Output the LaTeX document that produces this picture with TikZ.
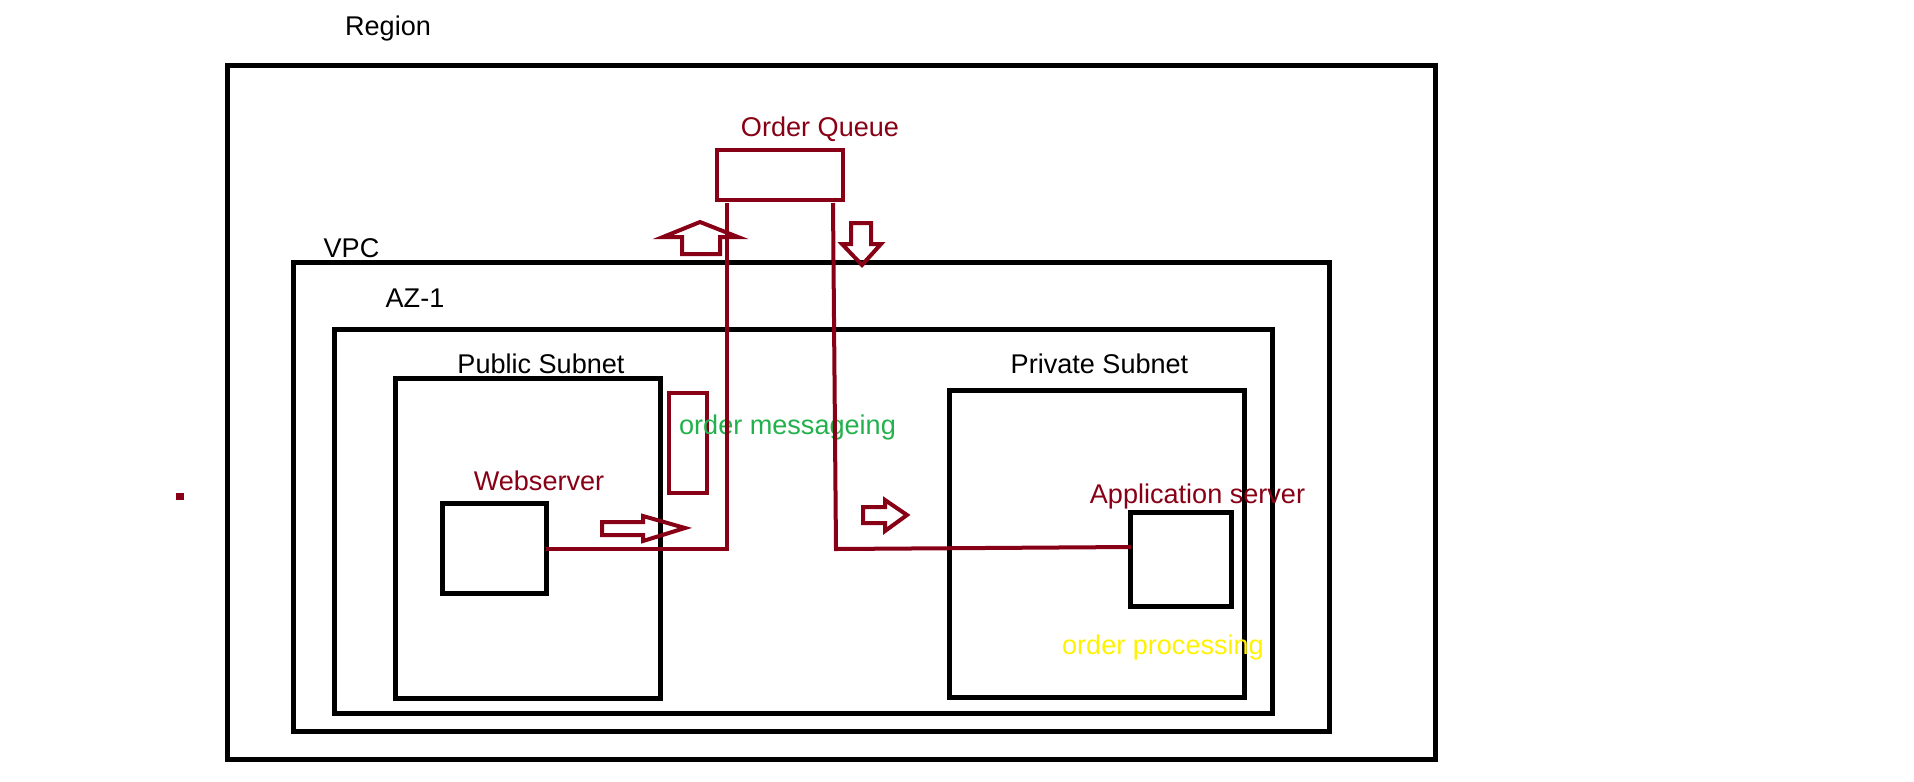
\documentclass[tikz,border=0pt]{standalone}
\usepackage{fontspec}
\setmainfont{Liberation Sans}
\definecolor{dred}{RGB}{136,0,21}
\definecolor{pgreen}{RGB}{34,177,76}
\definecolor{pyellow}{RGB}{255,242,0}
\begin{document}
\begin{tikzpicture}[x=0.01cm,y=-0.01cm,
  bx/.style={draw=black, line width=0.05cm, inner sep=0pt, outer sep=0pt},
  rbx/.style={draw=dred, line width=0.04cm, inner sep=0pt, outer sep=0pt},
  lbl/.style={font=\fontsize{7.7pt}{9pt}\selectfont, inner sep=0pt, anchor=base},
  conn/.style={draw=dred, line width=0.04cm},
  blockarrow/.style={draw=dred, line width=0.04cm, line join=miter}]
\useasboundingbox (0,0) rectangle (1914,781);
% boxes
\node[bx, minimum width=12.08cm, minimum height=6.93cm] (region) at (831.5,412.5) {};
\node[bx, minimum width=10.35cm, minimum height=4.68cm] (vpc) at (811.5,497) {};
\node[bx, minimum width=9.37cm, minimum height=3.83cm] (az) at (803.5,521.5) {};
\node[bx, minimum width=2.645cm, minimum height=3.195cm] (pub) at (527.75,538.25) {};
\node[bx, minimum width=2.94cm, minimum height=3.06cm] (priv) at (1097,544) {};
\node[bx, minimum width=1.03cm, minimum height=0.89cm] (web) at (494.5,548.5) {};
\node[bx, minimum width=1.00cm, minimum height=0.93cm] (app) at (1181,559.5) {};
\node[rbx, minimum width=1.26cm, minimum height=0.50cm] (queue) at (780,175) {};
\node[rbx, minimum width=0.38cm, minimum height=1.00cm] (msg) at (688,443) {};
\node[fill=dred, inner sep=0pt, minimum width=0.08cm, minimum height=0.07cm] (dot) at (180,496.5) {};
% labels
\node[lbl] (lregion) at (388,35) {Region};
\node[lbl] (lvpc) at (351.5,257) {VPC};
\node[lbl] (laz) at (415,307) {AZ-1};
\node[lbl] (lpub) at (541,373) {Public Subnet};
\node[lbl] (lpriv) at (1099.5,373) {Private Subnet};
\node[lbl, text=dred] (lweb) at (539,490) {Webserver};
\node[lbl, text=dred] (lapp) at (1197.5,503) {Application server};
\node[lbl, text=dred] (lqueue) at (820,136) {Order Queue};
\node[lbl, text=pgreen] (lmsg) at (787.5,434) {order messageing};
\node[lbl, text=pyellow] (lproc) at (1163,654) {order processing};
% connectors
\coordinate (qL) at (727,203);
\coordinate (qR) at (833,203);
\coordinate (rB) at (836,549);
\coordinate (aIn) at (1131,547);
\draw[conn] (web.east) -| (qL);
\draw[conn] (qR) -- (rB) -- (aIn);
% block arrows
\draw[blockarrow] (682,254) -- (682,237) -- (663,237) -- (700,222) -- (738,237) -- (720,237) -- (720,254) -- cycle;
\draw[blockarrow] (851,223) -- (871,223) -- (871,244) -- (881,244) -- (862,265) -- (842,244) -- (851,244) -- cycle;
\draw[blockarrow] (602,522) -- (643,522) -- (643,516) -- (685,528) -- (643,541) -- (643,535) -- (602,535) -- cycle;
\draw[blockarrow] (863,507) -- (885,507) -- (885,500) -- (907,515) -- (885,531) -- (885,523) -- (863,523) -- cycle;
\end{tikzpicture}
\end{document}
